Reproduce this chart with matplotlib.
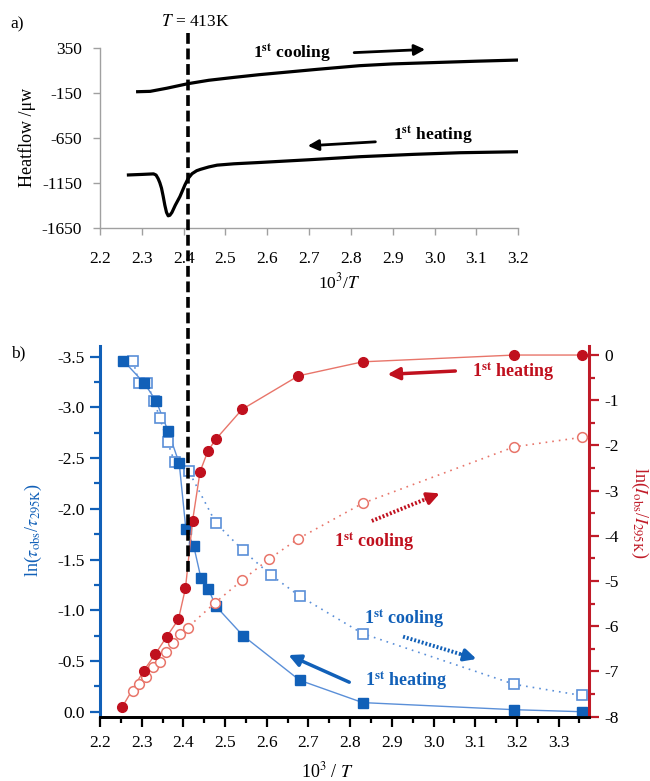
import matplotlib
matplotlib.use("Agg")
import matplotlib.pyplot as plt
from matplotlib.lines import Line2D
from matplotlib.transforms import blended_transform_factory

plt.rcParams['font.family'] = ['Liberation Serif', 'DejaVu Serif']
plt.rcParams['mathtext.fontset'] = 'stix'
plt.rcParams['axes.unicode_minus'] = False

# ---- a) DSC heat flow traces (read off the picture)
dsc_cool_x = [2.29, 2.32, 2.36, 2.41, 2.46, 2.52, 2.58, 2.65, 2.72, 2.82, 2.90, 3.00, 3.10, 3.20]
dsc_cool_y = [-139, -135, -100, -50, -12, 20, 50, 80, 110, 150, 170, 185, 200, 213]
dsc_heat_x = [2.268, 2.30, 2.328, 2.334, 2.339, 2.343, 2.347, 2.351, 2.355, 2.359, 2.363, 2.367,
              2.372, 2.380, 2.391, 2.403, 2.411, 2.420, 2.431, 2.44, 2.46, 2.48, 2.52, 2.583,
              2.70, 2.822, 2.95, 3.06, 3.20]
dsc_heat_y = [-1064, -1058, -1052, -1065, -1105, -1150, -1210, -1300, -1400, -1480, -1518, -1512,
              -1480, -1400, -1305, -1175, -1101, -1050, -1017, -1002, -975, -955, -940, -925,
              -895, -861, -835, -817, -806]

# ---- b) lifetime ratio (left axis)
tau_heat_x = [2.256, 2.306, 2.335, 2.363, 2.390, 2.406, 2.425, 2.442, 2.460, 2.478, 2.543, 2.679, 2.830, 3.194, 3.356]
tau_heat_y = [-3.46, -3.24, -3.06, -2.77, -2.45, -1.80, -1.63, -1.32, -1.21, -1.04, -0.75, -0.31, -0.09, -0.02, 0.0]
tau_cool_x = [2.279, 2.294, 2.313, 2.330, 2.343, 2.362, 2.379, 2.413, 2.478, 2.543, 2.609, 2.679, 2.830, 3.194, 3.356]
tau_cool_y = [-3.46, -3.24, -3.24, -3.06, -2.90, -2.66, -2.46, -2.37, -1.86, -1.59, -1.35, -1.14, -0.77, -0.27, -0.16]

# ---- b) intensity ratio (right axis)
int_heat_x = [2.253, 2.305, 2.333, 2.360, 2.388, 2.405, 2.422, 2.440, 2.459, 2.478, 2.541, 2.676, 2.830, 3.194, 3.356]
int_heat_y = [-7.79, -6.98, -6.61, -6.23, -5.85, -5.16, -3.67, -2.58, -2.12, -1.86, -1.20, -0.46, -0.15, 0.0, 0.0]
int_cool_x = [2.278, 2.294, 2.310, 2.327, 2.343, 2.359, 2.376, 2.392, 2.410, 2.476, 2.541, 2.606, 2.676, 2.830, 3.194, 3.356]
int_cool_y = [-7.43, -7.28, -7.13, -6.91, -6.78, -6.58, -6.38, -6.17, -6.03, -5.48, -4.98, -4.51, -4.06, -3.28, -2.03, -1.82]

T_mark = 2.41

blue = '#1160B8'
blue_lt = '#5A8FD8'
red = '#C0101E'
red_lt = '#E8756A'
red_ax = '#C01B28'
gray = '#A0A0A0'

W, H = 650, 781
fig = plt.figure(figsize=(6.5, 7.81), dpi=100)

def px(x, y):
    return x / W, 1 - y / H

def sup_label(word):
    return r'1$^{\mathbf{st}}$ ' + word

def dotted_arrow(ax, start, end, color):
    # dotted shaft drawn as a line, solid head on the last bit
    fx = start[0] + 0.8 * (end[0] - start[0])
    fy = start[1] + 0.8 * (end[1] - start[1])
    ax.plot([start[0], fx], [start[1], fy], color=color, lw=2.8, ls=(0, (0.5, 0.5)),
            dash_capstyle='butt', zorder=5)
    ax.annotate('', xy=end, xytext=(fx, fy),
                arrowprops=dict(arrowstyle='-|>', color=color, lw=2.5, mutation_scale=18,
                                shrinkA=0, shrinkB=0))

# ================= a) =================
ax1 = fig.add_axes([100 / W, 1 - 227.7 / H, 418.3 / W, 180 / H])
ax1.plot(dsc_cool_x, dsc_cool_y, color='black', lw=2.3, solid_joinstyle='round')
ax1.plot(dsc_heat_x, dsc_heat_y, color='black', lw=2.3, solid_joinstyle='round')
ax1.set_xlim(2.2, 3.2)
ax1.set_ylim(-1650, 350)
ax1.set_xticks([2.2 + 0.1 * i for i in range(11)])
ax1.set_xticklabels(['%.1f' % (2.2 + 0.1 * i) for i in range(11)])
ax1.set_yticks([350, -150, -650, -1150, -1650])
for s in ['top', 'right']:
    ax1.spines[s].set_visible(False)
for s in ['left', 'bottom']:
    ax1.spines[s].set_color(gray)
    ax1.spines[s].set_linewidth(1.0)
ax1.tick_params(axis='x', colors=gray, labelcolor='black', length=5, width=1, pad=12, labelsize=12.5)
ax1.tick_params(axis='y', colors=gray, labelcolor='black', length=5, width=1, pad=8, labelsize=12.5)

ax1.text(2.659, 291, sup_label('cooling'), fontsize=12.5, fontweight='bold', ha='center', va='center')
ax1.annotate('', xy=(2.984, 332), xytext=(2.801, 294),
             arrowprops=dict(arrowstyle='-|>', color='black', lw=2, mutation_scale=16))
ax1.text(2.995, -620, sup_label('heating'), fontsize=12.5, fontweight='bold', ha='center', va='center')
ax1.annotate('', xy=(2.690, -742), xytext=(2.865, -694),
             arrowprops=dict(arrowstyle='-|>', color='black', lw=2, mutation_scale=16))

fig.text(*px(27, 137), r'Heatflow /μw', rotation=90, ha='center', va='center', fontsize=13)
fig.text(*px(339, 282), r'10$^3$/$T$', ha='center', va='center', fontsize=12.5)
fig.text(*px(17, 24), 'a)', ha='center', va='center', fontsize=12.5)
fig.text(*px(195, 22), r'$T$ = 413K', ha='center', va='center', fontsize=12.5)

# ================= b) =================
ax2 = fig.add_axes([100 / W, 1 - 717 / H, 489 / W, 371 / H])
ax3 = ax2.twinx()

ax2.plot(tau_heat_x, tau_heat_y, color=blue_lt, lw=1.0, zorder=2)
ax2.plot(tau_cool_x, tau_cool_y, color=blue_lt, lw=1.2, ls=(0, (1, 3)), zorder=2)
ax2.plot(tau_cool_x, tau_cool_y, ls='none', marker='s', ms=6.5, mfc='white', mec=blue_lt, mew=1.2, zorder=3)
ax2.plot(tau_heat_x, tau_heat_y, ls='none', marker='s', ms=6.5, mfc=blue, mec=blue, zorder=4)

ax3.plot(int_heat_x, int_heat_y, color=red_lt, lw=1.0, zorder=2)
ax3.plot(int_cool_x, int_cool_y, color=red_lt, lw=1.2, ls=(0, (1, 3)), zorder=2)
ax3.plot(int_cool_x, int_cool_y, ls='none', marker='o', ms=7, mfc='white', mec=red_lt, mew=1.1, zorder=3)
ax3.plot(int_heat_x, int_heat_y, ls='none', marker='o', ms=7, mfc=red, mec=red, zorder=4)

ax2.set_xlim(2.2, 3.373)
ax2.set_ylim(0.052, -3.605)
ax3.set_ylim(-8.007, 0.2)

ax2.set_xticks([2.2 + 0.1 * i for i in range(12)])
ax2.set_xticklabels(['%.1f' % (2.2 + 0.1 * i) for i in range(12)])
ax2.set_xticks([2.25 + 0.1 * i for i in range(12)], minor=True)
ax2.set_yticks([-0.5 * i for i in range(8)])
ax2.set_yticklabels(['%.1f' % (-0.5 * i) if i else '0.0' for i in range(8)])
ax2.set_yticks([-0.25 - 0.5 * i for i in range(7)], minor=True)
ax3.set_yticks([-i for i in range(9)])
ax3.set_yticklabels(['%d' % (-i) for i in range(9)])
ax3.set_yticks([-0.5 - i for i in range(8)], minor=True)

for a in (ax2, ax3):
    a.spines['top'].set_visible(False)
    a.spines['bottom'].set_color('black')
    a.spines['bottom'].set_linewidth(2)
ax2.spines['right'].set_visible(False)
ax3.spines['left'].set_visible(False)
ax2.spines['left'].set_color(blue)
ax2.spines['left'].set_linewidth(2.2)
ax3.spines['right'].set_color(red_ax)
ax3.spines['right'].set_linewidth(2.2)

ax2.tick_params(axis='x', which='major', length=7, width=1.6, pad=6, labelsize=12.5)
ax2.tick_params(axis='x', which='minor', length=4, width=1.6)
ax2.tick_params(axis='y', which='major', colors=blue, labelcolor='black', length=7, width=1.6, pad=4, labelsize=12.5)
ax2.tick_params(axis='y', which='minor', colors=blue, length=4, width=1.6)
ax3.tick_params(axis='y', which='major', colors=red_ax, labelcolor='black', length=7, width=1.6, pad=4, labelsize=12.5)
ax3.tick_params(axis='y', which='minor', colors=red_ax, length=4, width=1.6)

# annotations
ax3.text(3.191, -0.37, sup_label('heating'), color=red, fontsize=13, fontweight='bold', ha='center', va='center')
ax3.annotate('', xy=(2.883, -0.43), xytext=(3.059, -0.35),
             arrowprops=dict(arrowstyle='-|>', color=red, lw=2.5, mutation_scale=18))
ax3.text(2.857, -4.13, sup_label('cooling'), color=red, fontsize=13, fontweight='bold', ha='center', va='center')
dotted_arrow(ax3, (2.852, -3.67), (3.015, -3.06), red)
ax2.text(2.931, -0.92, sup_label('cooling'), color=blue, fontsize=13, fontweight='bold', ha='center', va='center')
dotted_arrow(ax2, (2.927, -0.74), (3.103, -0.52), blue)
ax2.text(2.935, -0.31, sup_label('heating'), color=blue, fontsize=13, fontweight='bold', ha='center', va='center')
ax2.annotate('', xy=(2.646, -0.57), xytext=(2.804, -0.28),
             arrowprops=dict(arrowstyle='-|>', color=blue, lw=2.5, mutation_scale=18))

fig.text(*px(33, 530), r'ln($\tau_{\rm obs}$/$\tau_{\rm 295K}$)', color=blue, rotation=90,
         ha='center', va='center', fontsize=13)
fig.text(*px(640, 513), r'ln($I_{\rm obs}$/$I_{\rm 295K}$)', color=red_ax, rotation=270,
         ha='center', va='center', fontsize=13)
fig.text(*px(327, 771), r'10$^3$ / $T$', ha='center', va='center', fontsize=13)
fig.text(*px(18, 353), 'b)', ha='center', va='center', fontsize=12.5)

# dashed marker line for T = 413 K across both panels
tr = blended_transform_factory(ax2.transData, fig.transFigure)
fig.add_artist(Line2D([T_mark, T_mark], [1 - 33 / H, 1 - 575 / H], transform=tr,
                      color='black', lw=2.6, ls=(0, (3, 1.3)), zorder=10))

fig.savefig('out.png', dpi=100)
